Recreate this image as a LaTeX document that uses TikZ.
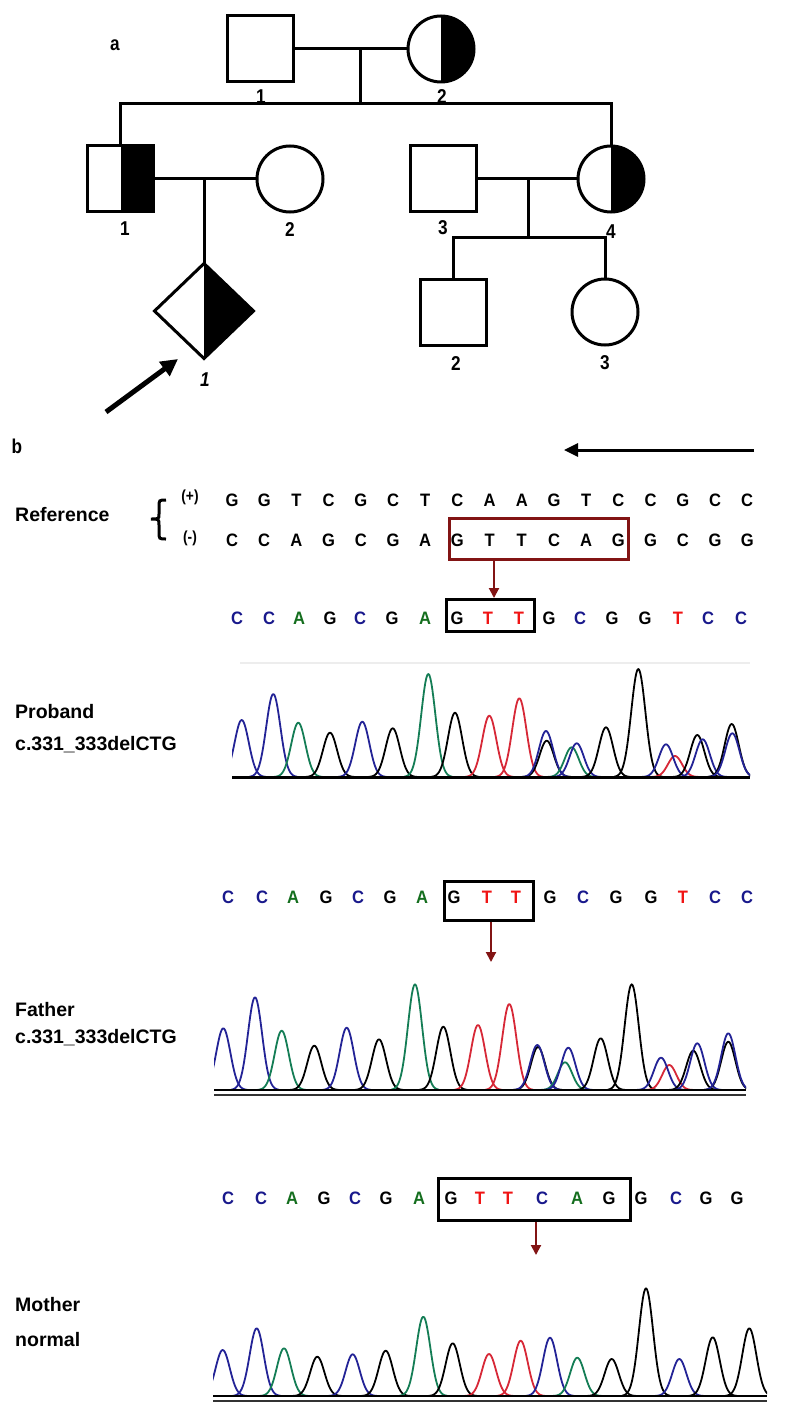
\documentclass[tikz,border=0pt]{standalone}
\usepackage{fontspec}
\setmainfont{Liberation Sans}
\newfontfamily\narrowf{Liberation Sans}[FakeStretch=0.86]
\newfontfamily\seqf{Liberation Sans}[FakeStretch=0.92]
\usetikzlibrary{arrows.meta,shapes.geometric}
\definecolor{sblue}{RGB}{25,25,140}
\definecolor{sgreen}{RGB}{20,110,30}
\definecolor{sred}{RGB}{240,20,20}
\definecolor{tblue}{RGB}{35,35,150}
\definecolor{tgreen}{RGB}{20,125,85}
\definecolor{tred}{RGB}{215,40,55}
\definecolor{dred}{RGB}{130,20,20}
\newcommand{\chpk}[4]{%
  \pgfmathsetmacro\pka{#2-24}\pgfmathsetmacro\pkb{#2+24}%
  \draw[trace,#1] plot[domain=\pka:\pkb,samples=49] (\x,{#4-(#4-#3)*exp(-((\x-#2)/10)^2)});}
\begin{document}
\begin{tikzpicture}[x=1pt,y=-1pt,
  ped/.style={draw,line width=3pt,inner sep=0pt,outer sep=0pt},
  sq/.style={ped,rectangle,minimum size=66pt},
  ci/.style={ped,circle,minimum size=66pt},
  halfr/.style={path picture={\fill[black] (path picture bounding box.north) rectangle (path picture bounding box.south east);}},
  ln/.style={line width=3pt},
  lbl/.style={font=\fontsize{20}{20}\selectfont\narrowf\bfseries,inner sep=0pt},
  seq/.style={font=\fontsize{18}{18}\selectfont\seqf\bfseries,inner sep=0pt},
  side/.style={font=\fontsize{19.5}{19.5}\selectfont\bfseries,inner sep=0pt,anchor=west},
  trace/.style={line width=1.8pt,line join=round},
  dbox/.style={draw,line width=3pt,inner sep=0pt},
  darr/.style={draw=dred,line width=2pt,-{Triangle[length=10pt,width=10pt]},dred},
]
\useasboundingbox[fill=white] (0,0) rectangle (787,1415);

% ---------------- panel a : pedigree ----------------
\node[lbl] (la) at (115,45) {a};
\node[sq] (I1) at (260,49) {};
\node[ci,halfr] (I2) at (441,49) {};
\node[lbl] (lI1) at (261,97) {1};
\node[lbl] (lI2) at (442,97) {2};
\coordinate (m1) at (360,49);
\coordinate (s1) at (360,104);
\draw[ln] (I1.east) -- (I2.west);
\draw[ln] (m1) -- (s1);

\node[sq,halfr] (II1) at (120.5,179) {};
\node[ci] (II2) at (290,179) {};
\node[sq] (II3) at (443,179) {};
\node[ci,halfr] (II4) at (611,179) {};
\draw[ln] (II1.north) |- (s1) -| (II4.north);
\node[lbl] (lII1) at (125,229) {1};
\node[lbl] (lII2) at (290,230) {2};
\node[lbl] (lII3) at (443,228) {3};
\node[lbl] (lII4) at (611,232) {4};

\node[ped,diamond,minimum width=99pt,minimum height=95pt,halfr] (III1) at (204,311) {};
\coordinate (m2) at (204,179);
\draw[ln] (II1.east) -- (II2.west);
\draw[ln] (m2) -- (III1.north);
\node[font=\fontsize{20}{20}\selectfont\narrowf\bfseries\itshape,inner sep=0pt] (lIII1) at (205,380) {1};

\node[sq] (III2) at (453,312) {};
\node[ci] (III3) at (605,312) {};
\coordinate (m3) at (528,179);
\coordinate (s3) at (528,238);
\draw[ln] (II3.east) -- (II4.west);
\draw[ln] (m3) -- (s3);
\draw[ln] (III2.north) |- (s3) -| (III3.north);
\node[lbl] (lIII2) at (456,364) {2};
\node[lbl] (lIII3) at (605,363) {3};

\coordinate (pa0) at (106,412);
\coordinate (pa1) at (178,359);
\draw[line width=5pt,-{Triangle[length=17pt,width=17pt]}] (pa0) -- (pa1);

% ---------------- panel b ----------------
\node[lbl] (lb) at (17,446) {b};
\coordinate (ar0) at (754,450);
\coordinate (ar1) at (564,450);
\draw[line width=3pt,-{Triangle[length=14pt,width=13pt]}] (ar0) -- (ar1);

\node[side] (ref) at (15,515) {Reference};
\node[font=\fontsize{16}{16}\selectfont\narrowf\bfseries,inner sep=0pt] (plus) at (190,497) {(+)};
\node[font=\fontsize{16}{16}\selectfont\narrowf\bfseries,inner sep=0pt] (minus) at (190,538) {(-)};
\draw[line width=3pt] (166,500) .. controls (159,500) .. (159,507) -- (159,514)
  .. controls (159,519) .. (151,519) .. controls (159,519) .. (159,525) -- (159,532)
  .. controls (159,539) .. (166,539);

\foreach \l [count=\i] in {G,G,T,C,G,C,T,C,A,A,G,T,C,C,G,C,C}
  \node[seq] (rp\i) at ({232+32.2*(\i-1)},500) {\l};
\foreach \l [count=\i] in {C,C,A,G,C,G,A,G,T,T,C,A,G,G,C,G,G}
  \node[seq] (rm\i) at ({232+32.2*(\i-1)},540) {\l};

\node[dbox,draw=dred,minimum width=179pt,minimum height=41pt] (bx1) at (539,539) {};
\coordinate (ra1) at (494,598);
\draw[darr] (ra1 |- bx1.south) -- (ra1);

% proband row
\foreach \x/\l/\c [count=\i] in {237/C/sblue,269/C/sblue,299/A/sgreen,330/G/black,360/C/sblue,392/G/black,425/A/sgreen,457/G/black,488/T/sred,519/T/sred,549/G/black,580/C/sblue,612/G/black,645/G/black,678/T/sred,708/C/sblue,741/C/sblue}
  \node[seq,text=\c] (pr\i) at (\x,618) {\l};
\node[dbox,minimum width=88pt,minimum height=32pt] (bx2) at (490.5,615.5) {};

\node[side] (lp1) at (15,712) {Proband};
\node[side] (lp2) at (15,745) {c.331\_333delCTG};

\draw[black!7,line width=1.5pt] (240,663) -- (750,663);
\begin{scope}
\clip (232,640) rectangle (750,790);
\chpk{tblue}{241.7}{720}{777}
\chpk{tblue}{273.3}{694}{777}
\chpk{tgreen}{298.3}{722.7}{777}
\chpk{black}{330}{732.7}{777}
\chpk{tblue}{362.3}{721.7}{777}
\chpk{black}{392.7}{728.3}{777}
\chpk{tgreen}{428.3}{674}{777}
\chpk{black}{455}{712.7}{777}
\chpk{tred}{489.3}{715.7}{777}
\chpk{tred}{519.3}{698.3}{777}
\chpk{black}{546.7}{740.7}{777}
\chpk{tblue}{546}{731}{777}
\chpk{tgreen}{571.7}{747.3}{777}
\chpk{tblue}{576.7}{743.3}{777}
\chpk{black}{606}{727.3}{777}
\chpk{black}{638.3}{669}{777}
\chpk{tred}{675}{756}{777}
\chpk{tblue}{666}{744.3}{777}
\chpk{black}{697.3}{735}{777}
\chpk{tblue}{702.7}{739.3}{777}
\chpk{black}{731.7}{724}{777}
\chpk{tblue}{732.3}{733.3}{777}
\end{scope}
\draw[line width=3pt] (232,777) -- (750,777);

% father row
\foreach \x/\l/\c [count=\i] in {228/C/sblue,262/C/sblue,293/A/sgreen,326/G/black,358/C/sblue,390/G/black,422/A/sgreen,454/G/black,487/T/sred,516/T/sred,550/G/black,583/C/sblue,616/G/black,651/G/black,683/T/sred,715/C/sblue,747/C/sblue}
  \node[seq,text=\c] (fr\i) at (\x,897) {\l};
\node[dbox,minimum width=89pt,minimum height=39pt] (bx3) at (489,901) {};
\coordinate (ra3) at (491,962);
\draw[darr] (ra3 |- bx3.south) -- (ra3);

\node[side] (lf1) at (15,1010) {Father};
\node[side] (lf2) at (15,1038) {c.331\_333delCTG};

\begin{scope}
\clip (214,950) rectangle (746,1100);
\chpk{tblue}{223.3}{1028.3}{1090}
\chpk{tblue}{255}{997.3}{1090}
\chpk{tgreen}{281.7}{1030.7}{1090}
\chpk{black}{314.3}{1045.7}{1090}
\chpk{tblue}{346.7}{1027.7}{1090}
\chpk{black}{379}{1039.3}{1090}
\chpk{tgreen}{415}{984.3}{1090}
\chpk{black}{443.3}{1026.7}{1090}
\chpk{tred}{478}{1025}{1090}
\chpk{tred}{509.3}{1004}{1090}
\chpk{black}{538}{1047}{1090}
\chpk{tblue}{537.3}{1045}{1090}
\chpk{tgreen}{565}{1062.3}{1090}
\chpk{tblue}{568.3}{1047.7}{1090}
\chpk{black}{600.7}{1038.3}{1090}
\chpk{black}{631.7}{984.3}{1090}
\chpk{tred}{669.3}{1065}{1090}
\chpk{tblue}{661}{1057.7}{1090}
\chpk{black}{693.3}{1050.7}{1090}
\chpk{tblue}{697.3}{1043.3}{1090}
\chpk{black}{728.3}{1041.7}{1090}
\chpk{tblue}{728.3}{1033.3}{1090}
\end{scope}
\draw[line width=2.5pt] (214,1090) -- (746,1090);
\draw[line width=1.5pt,black!80] (214,1095) -- (746,1095);

% mother row
\foreach \x/\l/\c [count=\i] in {228/C/sblue,261/C/sblue,292/A/sgreen,324/G/black,355/C/sblue,386/G/black,419/A/sgreen,451/G/black,480/T/sred,508/T/sred,542/C/sblue,577/A/sgreen,609/G/black,641/G/black,676/C/sblue,706/G/black,737/G/black}
  \node[seq,text=\c] (mr\i) at (\x,1198) {\l};
\node[dbox,minimum width=192pt,minimum height=42pt] (bx4) at (534.5,1199.5) {};
\coordinate (ra4) at (536,1255);
\draw[darr] (ra4 |- bx4.south) -- (ra4);

\node[side] (lm1) at (15,1305) {Mother};
\node[side] (lm2) at (15,1340) {normal};

\begin{scope}
\clip (213,1250) rectangle (767,1405);
\chpk{tblue}{222.7}{1350}{1396}
\chpk{tblue}{256.7}{1328.3}{1396}
\chpk{tgreen}{284}{1348.3}{1396}
\chpk{black}{317.3}{1356.7}{1396}
\chpk{tblue}{352.7}{1354.3}{1396}
\chpk{black}{385.7}{1350.7}{1396}
\chpk{tgreen}{423.3}{1316.7}{1396}
\chpk{black}{452.7}{1343.3}{1396}
\chpk{tred}{489}{1354}{1396}
\chpk{tred}{520.7}{1340.7}{1396}
\chpk{tblue}{550}{1337.7}{1396}
\chpk{tgreen}{577.3}{1357.7}{1396}
\chpk{black}{611.7}{1359}{1396}
\chpk{black}{646}{1288.3}{1396}
\chpk{tblue}{679.3}{1359}{1396}
\chpk{black}{712.7}{1337.3}{1396}
\chpk{black}{749.3}{1328.3}{1396}
\end{scope}
\draw[line width=2.5pt] (213,1396) -- (767,1396);
\draw[line width=1.5pt,black!80] (213,1401) -- (767,1401);
\end{tikzpicture}
\end{document}
